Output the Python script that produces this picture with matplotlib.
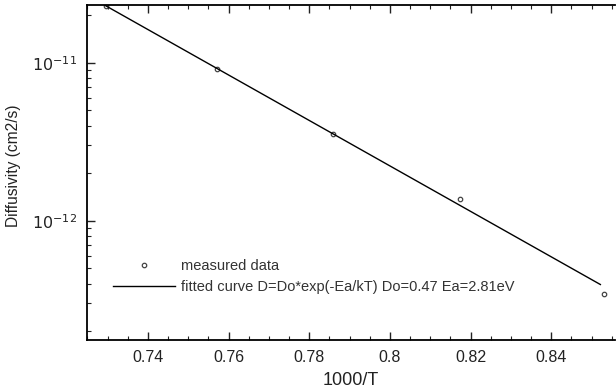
import matplotlib.pyplot as plt
from matplotlib.ticker import MultipleLocator, LogLocator, NullFormatter, FixedLocator

plt.rcParams["font.family"] = ["Liberation Sans", "DejaVu Sans"]

# measured points (1000/T, diffusivity cm2/s)
inv_t = [0.7295, 0.7571, 0.7858, 0.8175, 0.8531]
diffusivity = [2.30e-11, 9.2e-12, 3.52e-12, 1.38e-12, 3.42e-13]

# fitted line end points
fit_x = [0.7295, 0.8522]
fit_y = [2.30e-11, 3.95e-13]

xticks = [0.74, 0.76, 0.78, 0.8, 0.82, 0.84]
xticklabels = ["0.74", "0.76", "0.78", "0.8", "0.82", "0.84"]
yticks = [1e-12, 1e-11]
yticklabels = ["$10^{-12}$", "$10^{-11}$"]

fig = plt.figure(figsize=(6.16, 3.89), dpi=100)
ax = fig.add_axes([0.1412, 0.126, 0.857, 0.861])

ax.plot(inv_t, diffusivity, "o", ms=3.2, mfc="white", mec="#444444", mew=0.9,
        label="measured data")
ax.plot(fit_x, fit_y, "-", color="black", lw=1.0,
        label="fitted curve D=Do*exp(-Ea/kT) Do=0.47 Ea=2.81eV")

ax.set_yscale("log")
ax.set_xlim(0.7249, 0.8558)
ax.set_ylim(1.76e-13, 2.32e-11)

ax.set_xticks(xticks)
ax.set_xticklabels(xticklabels)
ax.xaxis.set_minor_locator(MultipleLocator(0.005))
ax.yaxis.set_major_locator(FixedLocator(yticks))
ax.set_yticklabels(yticklabels)
ax.yaxis.set_minor_locator(LogLocator(base=10, subs=range(2, 10)))
ax.yaxis.set_minor_formatter(NullFormatter())

ax.tick_params(which="both", direction="in", top=True, right=False,
               colors="#222222")
ax.tick_params(axis="x", labelsize=11.5, pad=7)
ax.tick_params(axis="y", labelsize=11.5, pad=7)
ax.tick_params(which="major", length=6, width=1)
ax.tick_params(which="minor", length=3, width=0.8)
ax.spines["right"].set_visible(False)
for s in ["left", "bottom", "top"]:
    ax.spines[s].set_linewidth(1.3)

ax.set_xlabel("1000/T", fontsize=13, color="#222222", labelpad=5)
ax.set_ylabel("Diffusivity (cm2/s)", fontsize=11.2, color="#222222")
ax.yaxis.set_label_coords(-0.125, 0.52)

ax.legend(loc="lower left", bbox_to_anchor=(0.024, 0.097), frameon=False,
          fontsize=10.5, handlelength=4.3, handletextpad=0.35,
          labelspacing=0.5, labelcolor="#333333")

fig.savefig("out.png", dpi=100)
